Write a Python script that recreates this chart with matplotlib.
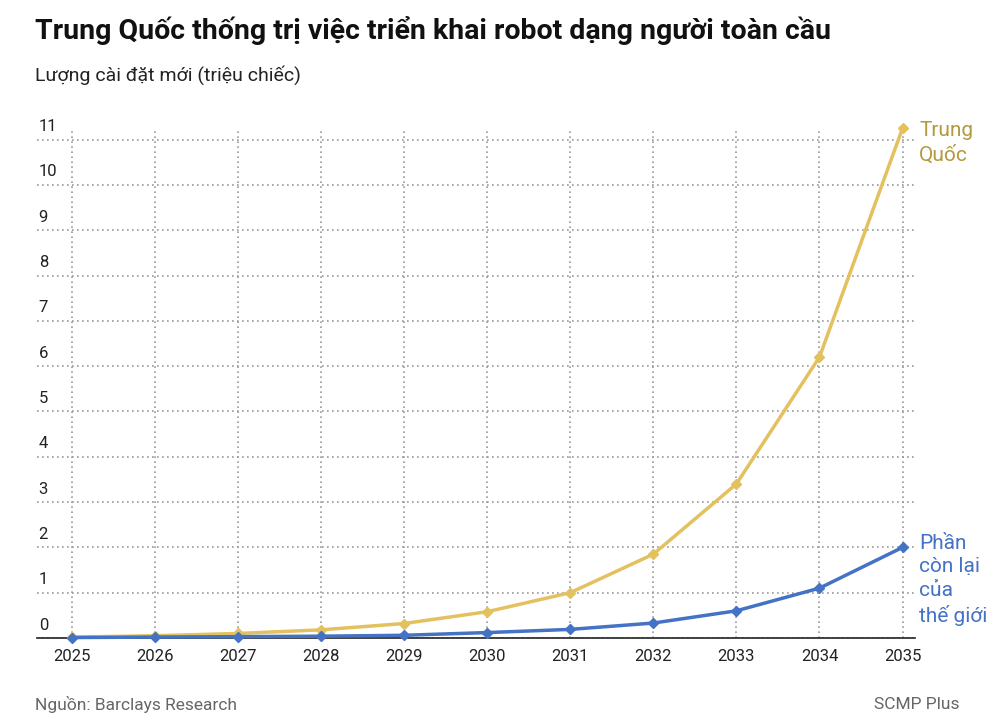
import matplotlib
matplotlib.use('agg')
import matplotlib.pyplot as plt

years = list(range(2025, 2036))
china = [0.02, 0.05, 0.1, 0.18, 0.32, 0.58, 1.0, 1.85, 3.4, 6.2, 11.25]
rest = [0.01, 0.02, 0.03, 0.04, 0.06, 0.12, 0.19, 0.33, 0.6, 1.1, 2.0]
yticks = list(range(0, 12))

gold = '#e3c15f'
blue = '#4472c4'
plt.rcParams['font.family'] = ['Roboto', 'DejaVu Sans']

fig = plt.figure(figsize=(10, 7.25), dpi=100)
ax = fig.add_axes([0.037, 0.12, 0.878, 0.70])
ax.set_xlim(2024.58, 2035.15)
ax.set_ylim(0, 11.2)

ax.plot(years, china, color=gold, lw=2.5, marker='D', ms=5, zorder=3,
        clip_on=False)
ax.plot(years, rest, color=blue, lw=2.5, marker='D', ms=5, zorder=3,
        clip_on=False)

ax.set_yticks(yticks)
ax.set_xticks(years)
ax.grid(True, color='#999999', ls=(0, (1, 2)), lw=1.2)
ax.set_yticklabels([])
for y in yticks:
    ax.text(2024.6, y + 0.12, str(y), fontsize=12, color='#222222',
            ha='left', va='bottom')
ax.tick_params(axis='x', length=0, labelsize=12, pad=8, colors='#222222')
ax.tick_params(axis='y', length=0)
for s in ['top', 'right', 'left']:
    ax.spines[s].set_visible(False)
ax.spines['bottom'].set_color('#222222')
ax.spines['bottom'].set_linewidth(1.2)

ax.text(2035.2, 11.4, 'Trung\nQuốc', color='#b39a3c', fontsize=15,
        ha='left', va='top', linespacing=1.3, clip_on=False)
ax.text(2035.2, 2.3, 'Phần\ncòn lại\ncủa\nthế giới', color=blue, fontsize=15,
        ha='left', va='top', linespacing=1.3, clip_on=False)

fig.text(0.035, 0.958, 'Trung Quốc thống trị việc triển khai robot dạng người toàn cầu',
         fontsize=20.5, fontweight='bold', color='#111111', va='center')
fig.text(0.035, 0.897, 'Lượng cài đặt mới (triệu chiếc)', fontsize=14,
         color='#222222', va='center')
fig.text(0.035, 0.028, 'Nguồn: Barclays Research', fontsize=12.5,
         color='#666666', va='center')
fig.text(0.96, 0.028, 'SCMP Plus', fontsize=12.5, color='#666666',
         va='center', ha='right')

fig.savefig('out.png')
